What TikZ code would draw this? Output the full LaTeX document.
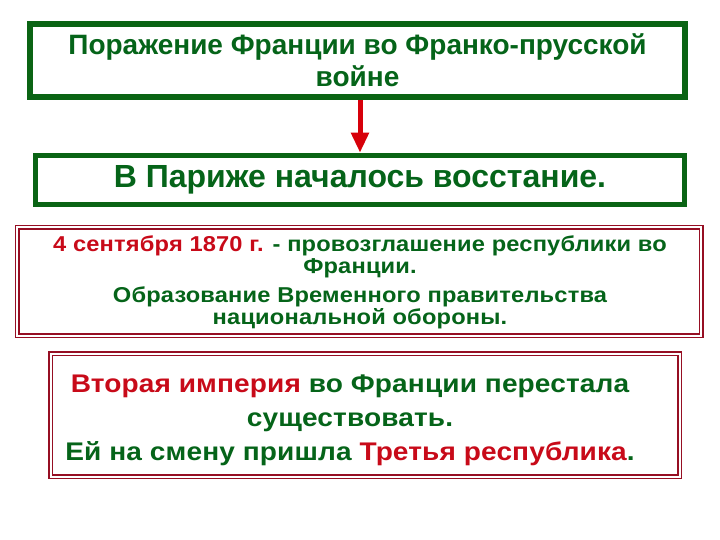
\documentclass[tikz,border=0pt]{standalone}
\usepackage{fontspec}
\setmainfont{Liberation Sans}
\newfontfamily\widesans[FakeStretch=1.1]{Liberation Sans}
\usetikzlibrary{arrows.meta}
\definecolor{txtgreen}{RGB}{5,100,25}
\definecolor{framegreen}{RGB}{10,100,20}
\definecolor{txtred}{RGB}{200,10,25}
\definecolor{framered}{RGB}{150,15,35}
\definecolor{arrowcol}{RGB}{215,0,10}
\begin{document}
\begin{tikzpicture}[x=1pt,y=-1pt,
		greenbox/.style={draw=framegreen, line width=5.5pt, inner sep=0pt, align=center, font=\bfseries, text=txtgreen},
		redbox/.style={draw=framered, line width=1.5pt, double=white, double distance=2pt, inner sep=0pt},
		bodytext/.style={align=center, font=\bfseries, text=txtgreen}]
	\useasboundingbox[fill=white] (0,0) rectangle (720,540);

	\node[greenbox, minimum width=655pt, minimum height=73pt, font=\fontsize{28}{32}\selectfont\bfseries] (defeat) at (357.5,60.5)
		{Поражение Франции во Франко-прусской\\войне};
	\node[greenbox, minimum width=649pt, minimum height=49pt, font=\fontsize{32}{36}\selectfont\bfseries] (uprising) at (360,180)
		{В Париже началось восстание.};

	\draw[arrowcol, line width=5pt, -{Triangle[width=17pt,length=20pt]}]
		([xshift=2.5pt]defeat.south) -- ([xshift=2.5pt]defeat.south |- uprising.north);

	\node[redbox, minimum width=684pt, minimum height=108pt] (republic) at (359,281.5) {};
	\node[bodytext, font=\widesans\fontsize{21.5}{22}\selectfont\bfseries\addfontfeatures{LetterSpace=0.8}] (republictext) at (360,282.5)
		{\textcolor{txtred}{4 сентября 1870 г.} - провозглашение республики во\\Франции.\\[7pt]
		Образование Временного правительства\\национальной обороны.};

	\node[redbox, minimum width=629pt, minimum height=123pt] (empire) at (365,415) {};
	\node[bodytext, font=\widesans\fontsize{25.5}{34}\selectfont\bfseries\addfontfeatures{LetterSpace=0.5}] (empiretext) at (350,420)
		{\textcolor{txtred}{Вторая империя} во Франции перестала\\существовать.\\
		Ей на смену пришла \textcolor{txtred}{Третья республика}.};
\end{tikzpicture}
\end{document}
